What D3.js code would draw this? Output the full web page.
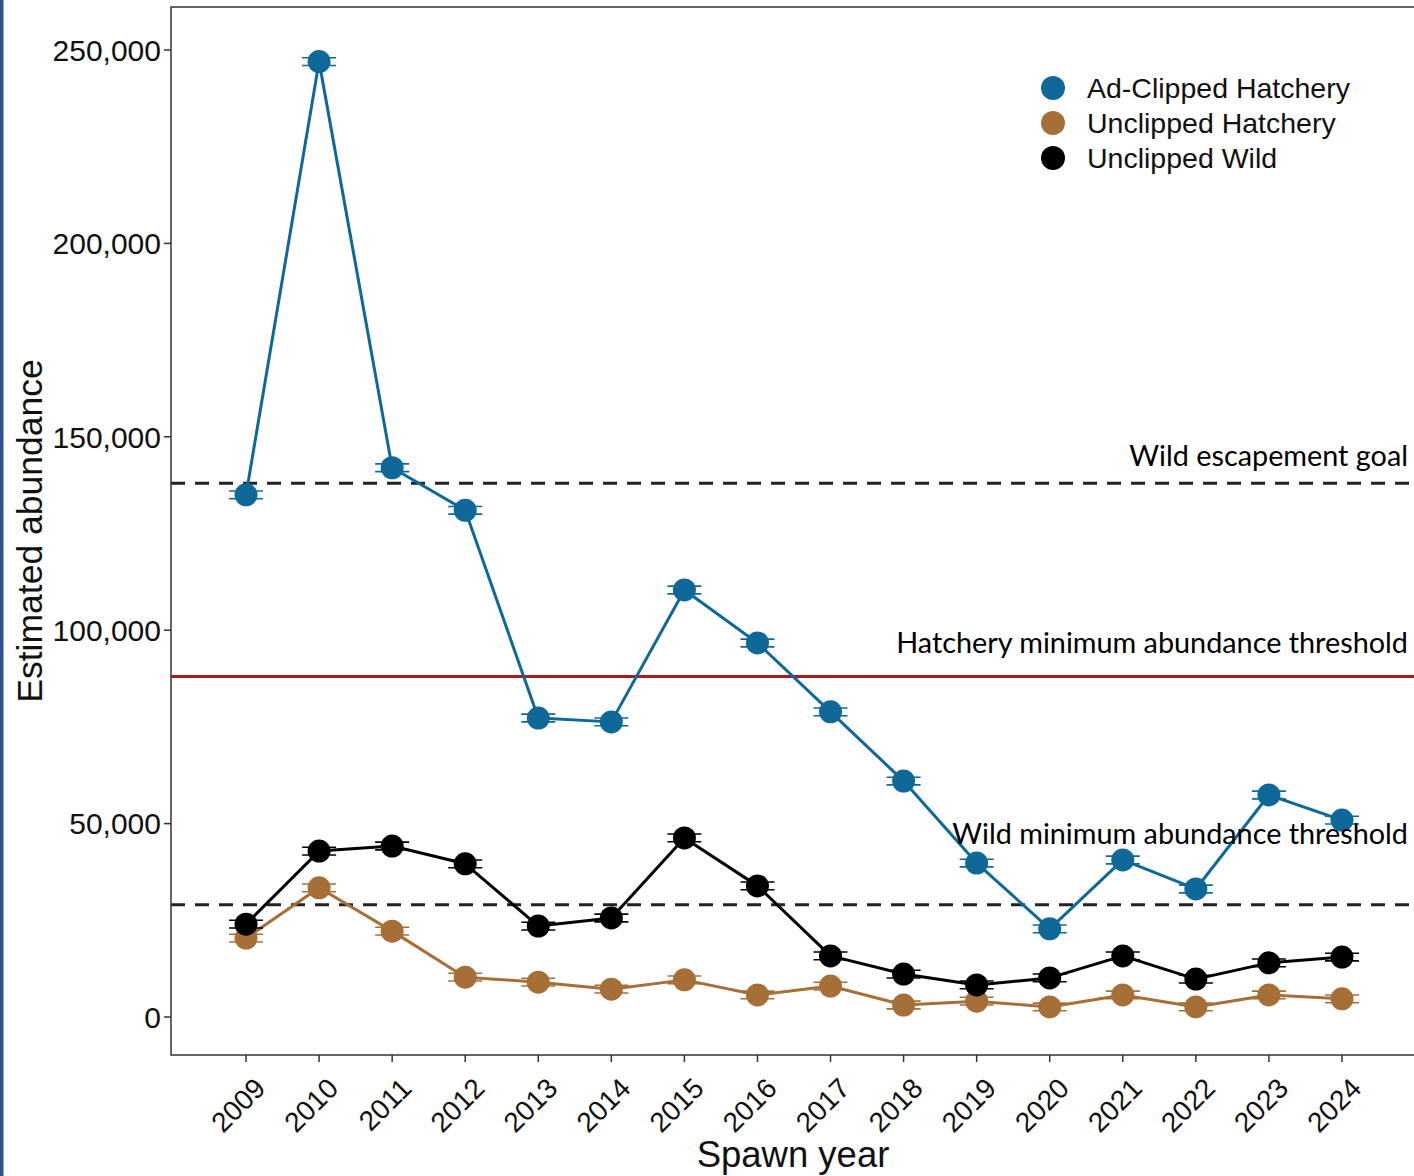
<!DOCTYPE html>
<html>
<head>
<meta charset="utf-8">
<script src="https://cdn.jsdelivr.net/npm/d3@7"></script>
<style>
  html, body { margin: 0; padding: 0; background: #fff; }
  svg { display: block; }
</style>
</head>
<body>
<svg id="chart" width="1414" height="1176"></svg>
<script>
// ---- Data ----
const years = [2009, 2010, 2011, 2012, 2013, 2014, 2015, 2016, 2017, 2018, 2019, 2020, 2021, 2022, 2023, 2024];
const adClippedHatchery = [135000, 247000, 142000, 131000, 77300, 76300, 110400, 96700, 78900, 61000, 39800, 22800, 40600, 33100, 57400, 50900];
const unclippedHatchery = [20400, 33400, 22200, 10300, 9000, 7200, 9600, 5700, 8000, 3100, 4100, 2600, 5700, 2600, 5700, 4700];
const unclippedWild = [24000, 42900, 44200, 39600, 23500, 25600, 46300, 33900, 15800, 11100, 8300, 10100, 15800, 9800, 14000, 15500];
const ciHalfWidth = [1000, 1000, 1000, 1000, 1000, 1000, 1000, 1000, 1000, 1000, 1000, 1000, 1000, 1000, 1000, 1000];
const seriesNames = ["Ad-Clipped Hatchery", "Unclipped Hatchery", "Unclipped Wild"];
const seriesColors = ["#0e6898", "#a66f38", "#000000"];
const yTicks = [0, 50000, 100000, 150000, 200000, 250000];
const refLines = [
  { label: "Wild escapement goal", value: 138000, color: "#222", dash: "14,10" },
  { label: "Hatchery minimum abundance threshold", value: 88000, color: "#a81c1c", dash: null },
  { label: "Wild minimum abundance threshold", value: 29000, color: "#222", dash: "14,10" }
];
const xTitle = "Spawn year";
const yTitle = "Estimated abundance";

// ---- Layout ----
const svg = d3.select("#chart");
const panel = { left: 171, right: 1417, top: 7, bottom: 1055 };

const x = d3.scaleLinear()
  .domain([years[0] - 1.027, years[years.length - 1] + 1.027])
  .range([panel.left, panel.right]);
const y = d3.scaleLinear()
  .domain([-9824, 261120])
  .range([panel.bottom, panel.top]);

// left blue strip
svg.append("rect").attr("x", 0).attr("y", 0).attr("width", 3.5).attr("height", 1176).attr("fill", "#34518f");

// clip
svg.append("clipPath").attr("id", "clip")
  .append("rect").attr("x", panel.left).attr("y", panel.top)
  .attr("width", panel.right - panel.left).attr("height", panel.bottom - panel.top);

const plot = svg.append("g").attr("clip-path", "url(#clip)");

// reference lines
refLines.forEach(r => {
  const l = plot.append("line")
    .attr("x1", panel.left).attr("x2", panel.right)
    .attr("y1", y(r.value)).attr("y2", y(r.value))
    .attr("stroke", r.color).attr("stroke-width", 3);
  if (r.dash) l.attr("stroke-dasharray", r.dash);
});

// series
const allSeries = [adClippedHatchery, unclippedHatchery, unclippedWild];
const drawOrder = [1, 2, 0];
const line = d3.line().x((d, i) => x(years[i])).y(d => y(d));

drawOrder.forEach(si => {
  const vals = allSeries[si];
  const col = seriesColors[si];
  const g = plot.append("g");
  g.append("path").datum(vals)
    .attr("d", line).attr("fill", "none")
    .attr("stroke", col).attr("stroke-width", 3).attr("stroke-linejoin", "round");
  // error bar caps
  vals.forEach((v, i) => {
    [v - ciHalfWidth[i], v + ciHalfWidth[i]].forEach(c => {
      g.append("line")
        .attr("x1", x(years[i]) - 17).attr("x2", x(years[i]) + 17)
        .attr("y1", y(c)).attr("y2", y(c))
        .attr("stroke", col).attr("stroke-width", 1.6);
    });
    g.append("line")
      .attr("x1", x(years[i])).attr("x2", x(years[i]))
      .attr("y1", y(v - ciHalfWidth[i])).attr("y2", y(v + ciHalfWidth[i]))
      .attr("stroke", col).attr("stroke-width", 1.6);
  });
  g.selectAll("circle").data(vals).enter().append("circle")
    .attr("cx", (d, i) => x(years[i])).attr("cy", d => y(d))
    .attr("r", 11.5).attr("fill", col);
});

// panel border
svg.append("rect")
  .attr("x", panel.left).attr("y", panel.top)
  .attr("width", panel.right - panel.left).attr("height", panel.bottom - panel.top)
  .attr("fill", "none").attr("stroke", "#333").attr("stroke-width", 1.5);

// y axis
const yAxis = svg.append("g");
yTicks.forEach(t => {
  yAxis.append("line")
    .attr("x1", panel.left - 7).attr("x2", panel.left)
    .attr("y1", y(t)).attr("y2", y(t))
    .attr("stroke", "#333").attr("stroke-width", 1.5);
  yAxis.append("text")
    .attr("x", panel.left - 10).attr("y", y(t))
    .attr("dy", "0.36em")
    .attr("text-anchor", "end")
    .attr("font-family", "Liberation Sans, Arial, sans-serif")
    .attr("font-size", 30).attr("fill", "#111")
    .text(d3.format(",")(t));
});

// x axis
const xAxis = svg.append("g");
years.forEach(yr => {
  xAxis.append("line")
    .attr("x1", x(yr)).attr("x2", x(yr))
    .attr("y1", panel.bottom).attr("y2", panel.bottom + 7)
    .attr("stroke", "#333").attr("stroke-width", 1.5);
  xAxis.append("text")
    .attr("transform", `translate(${x(yr) + 21},${1090}) rotate(-45)`)
    .attr("text-anchor", "end")
    .attr("font-family", "Liberation Sans, Arial, sans-serif")
    .attr("font-size", 28).attr("fill", "#111")
    .text(yr);
});

// axis titles
svg.append("text")
  .attr("x", 793).attr("y", 1167)
  .attr("text-anchor", "middle")
  .attr("font-family", "Liberation Sans, Arial, sans-serif")
  .attr("font-size", 36.5).attr("fill", "#111")
  .text(xTitle);
svg.append("text")
  .attr("transform", "translate(42,531) rotate(-90)")
  .attr("text-anchor", "middle")
  .attr("font-family", "Liberation Sans, Arial, sans-serif")
  .attr("font-size", 35.5).attr("fill", "#111")
  .text(yTitle);

// legend
const legend = svg.append("g");
seriesNames.forEach((n, i) => {
  const ly = 88 + i * 35;
  legend.append("circle").attr("cx", 1053).attr("cy", ly).attr("r", 12).attr("fill", seriesColors[i]);
  legend.append("text")
    .attr("x", 1087).attr("y", ly).attr("dy", "0.36em")
    .attr("font-family", "Liberation Sans, Arial, sans-serif")
    .attr("font-size", 28.5).attr("fill", "#111")
    .text(n);
});

// reference line annotations
const annBaselines = [466, 653, 844];
refLines.forEach((r, i) => {
  svg.append("text")
    .attr("x", 1408).attr("y", annBaselines[i])
    .attr("text-anchor", "end")
    .attr("font-family", "Lato, 'Open Sans', sans-serif")
    .attr("font-size", 28.8).attr("fill", "#000")
    .text(r.label);
});
</script>
</body>
</html>
